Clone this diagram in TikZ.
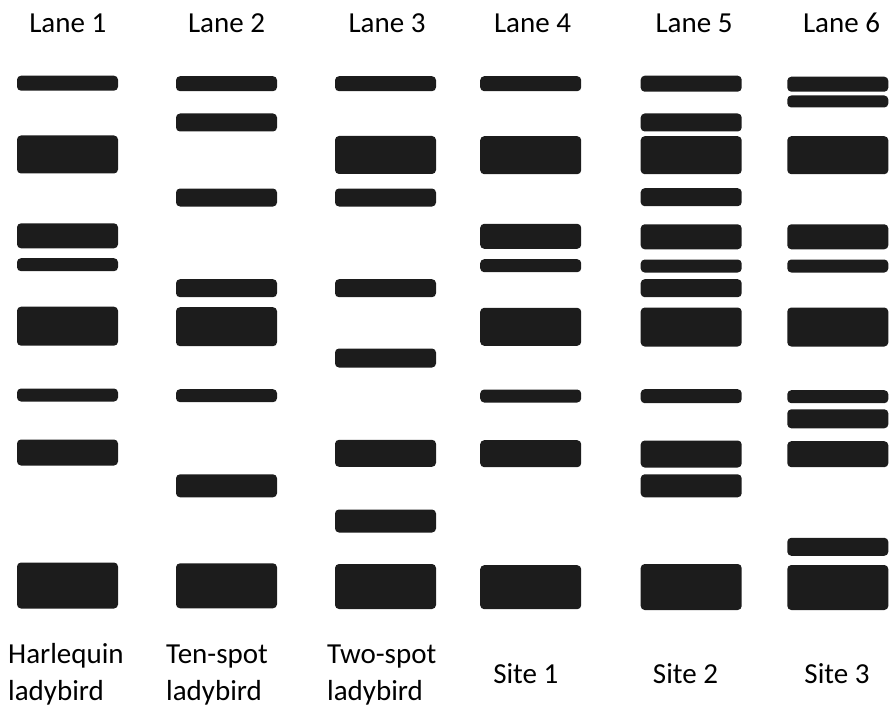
\documentclass[tikz,border=0pt]{standalone}
\usepackage{fontspec}
\setmainfont{Carlito}
\usepackage{tikz}
\usetikzlibrary{positioning}
\definecolor{bandgray}{HTML}{1C1C1C}

\begin{document}
\begin{tikzpicture}[
    x=1pt, y=-1pt,
    band/.style={rectangle, rounded corners=4pt, fill=bandgray, minimum width=101pt, minimum height=#1pt, inner sep=0pt},
    lanelabel/.style={anchor=base, inner sep=0pt, font=\fontsize{29pt}{36.7pt}\selectfont},
    namelabel/.style={anchor=base west, align=left, inner sep=0pt, font=\fontsize{29pt}{36.7pt}\selectfont}
]
\useasboundingbox (0,0) rectangle (889,706);

% Lane headings
\node[lanelabel] (lane1) at (67.8,32.7) {Lane 1};
\node[lanelabel] (lane2) at (226.5,32.7) {Lane 2};
\node[lanelabel] (lane3) at (387,32.7) {Lane 3};
\node[lanelabel] (lane4) at (532.5,32.7) {Lane 4};
\node[lanelabel] (lane5) at (694,32.7) {Lane 5};
\node[lanelabel] (lane6) at (841.5,32.7) {Lane 6};

% Lane 1 bands
\node[band=15] (l1a) at (67.5,83.2) {};
\node[band=38] (l1b) at (67.5,154.5) {};
\node[band=25] (l1c) at (67.5,235.8) {};
\node[band=13] (l1d) at (67.5,264.7) {};
\node[band=39] (l1e) at (67.5,326.2) {};
\node[band=13] (l1f) at (67.5,395) {};
\node[band=26] (l1g) at (67.5,452.5) {};
\node[band=46] (l1h) at (67.5,585.5) {};

% Lane 2 bands
\node[band=15] (l2a) at (226.5,83.7) {};
\node[band=18] (l2b) at (226.5,122.5) {};
\node[band=18] (l2c) at (226.5,197.5) {};
\node[band=18] (l2d) at (226.5,288.2) {};
\node[band=39] (l2e) at (226.5,326.7) {};
\node[band=13] (l2f) at (226.5,395.7) {};
\node[band=23] (l2g) at (226.5,485.8) {};
\node[band=45] (l2h) at (226.5,585.8) {};

% Lane 3 bands
\node[band=15] (l3a) at (385.5,83.7) {};
\node[band=38] (l3b) at (385.5,155) {};
\node[band=18] (l3c) at (385.5,197.5) {};
\node[band=18] (l3d) at (385.5,288.2) {};
\node[band=19] (l3e) at (385.5,358) {};
\node[band=27] (l3f) at (385.5,453.3) {};
\node[band=23] (l3g) at (385.5,521) {};
\node[band=45] (l3h) at (385.5,586.5) {};

% Lane 4 bands
\node[band=15] (l4a) at (530.7,83.7) {};
\node[band=38] (l4b) at (530.7,155.2) {};
\node[band=25] (l4c) at (530.7,236.3) {};
\node[band=13] (l4d) at (530.7,265.7) {};
\node[band=38] (l4e) at (530.7,326.8) {};
\node[band=13] (l4f) at (530.7,396) {};
\node[band=27] (l4g) at (530.7,453.7) {};
\node[band=44] (l4h) at (530.7,587.2) {};

% Lane 5 bands
\node[band=16] (l5a) at (691.2,83.7) {};
\node[band=18] (l5b) at (691.2,122.5) {};
\node[band=38] (l5c) at (691.2,155.2) {};
\node[band=18] (l5d) at (691.2,197.2) {};
\node[band=25] (l5e) at (691.2,236.8) {};
\node[band=13] (l5f) at (691.2,266) {};
\node[band=18] (l5g) at (691.2,288.2) {};
\node[band=39] (l5h) at (691.2,327) {};
\node[band=14] (l5i) at (691.2,396.2) {};
\node[band=27] (l5j) at (691.2,454) {};
\node[band=23] (l5k) at (691.2,485.8) {};
\node[band=46] (l5l) at (691.2,587) {};

% Lane 6 bands
\node[band=15] (l6a) at (837.8,84.2) {};
\node[band=12] (l6b) at (837.8,101.5) {};
\node[band=38] (l6c) at (837.8,155.2) {};
\node[band=25] (l6d) at (837.8,236.8) {};
\node[band=13] (l6e) at (837.8,266) {};
\node[band=39] (l6f) at (837.8,327) {};
\node[band=13] (l6g) at (837.8,396.7) {};
\node[band=19] (l6h) at (837.8,418.8) {};
\node[band=26] (l6i) at (837.8,454.2) {};
\node[band=18] (l6j) at (837.8,546.8) {};
\node[band=45] (l6k) at (837.8,587.5) {};

% Sample names
\node[namelabel] (name1) at (8,700) {Harlequin\\ladybird};
\node[namelabel] (name2) at (166,700) {Ten-spot\\ladybird};
\node[namelabel] (name3) at (327,700) {Two-spot\\ladybird};
\node[lanelabel] (name4) at (525.8,683.3) {Site 1};
\node[lanelabel] (name5) at (685.5,683.3) {Site 2};
\node[lanelabel] (name6) at (837,683.3) {Site 3};

\end{tikzpicture}
\end{document}
